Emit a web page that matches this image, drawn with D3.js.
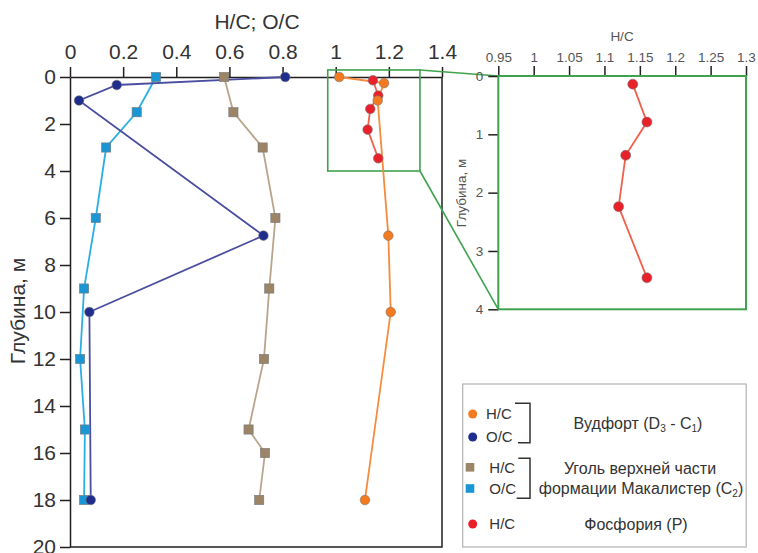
<!DOCTYPE html>
<html>
<head>
	<title></title>

<script src="https://d3js.org/d3.v7.min.js"></script>

<style type="text/css">
	body { margin: 0; background: #fff; }
	svg { font-family: "Liberation Sans", Arial, sans-serif; }
	.main .tick text { font-size: 21px; fill: #333; }
	.inset .tick text { font-size: 13.5px; fill: #555; }
	.tick line, .domain { stroke: #231f20; stroke-width: 1.5; }
	.leg { font-size: 15px; fill: #333; }
	.grp { font-size: 16px; fill: #333; }
</style>

</head>
<body>

<script type="text/javascript">

var width = 758,
	height = 553;

// Вудфорт (D3 - C1)
var woodDepthHC = [0, 0.26, 1.0, 6.75, 10, 18];
var woodHC      = [1.013, 1.182, 1.158, 1.198, 1.207, 1.11];
var woodDepthOC = [0, 0.34, 1.0, 6.75, 10, 18];
var woodOC      = [0.81, 0.176, 0.034, 0.728, 0.073, 0.078];

// Макалистер (C2)
var macDepthHC = [0, 1.5, 3, 6, 9, 12, 15, 16, 18];
var macHC      = [0.58, 0.615, 0.725, 0.773, 0.75, 0.73, 0.672, 0.734, 0.712];
var macDepthOC = [0, 1.5, 3, 6, 9, 12, 15, 18];
var macOC      = [0.324, 0.251, 0.136, 0.097, 0.053, 0.038, 0.056, 0.053];

// Фосфория (P)
var phosDepth = [0.14, 0.79, 1.36, 2.24, 3.46];
var phosHC    = [1.14, 1.16, 1.13, 1.12, 1.16];

var mainXTicks = [0, 0.2, 0.4, 0.6, 0.8, 1, 1.2, 1.4];
var mainYTicks = [0, 2, 4, 6, 8, 10, 12, 14, 16, 18, 20];
var insetXTicks = [0.95, 1, 1.05, 1.1, 1.15, 1.2, 1.25, 1.3];
var insetYTicks = [0, 1, 2, 3, 4];

// zoomed area in main plot
var zoomBoxX = [0.97, 1.317];
var zoomBoxY = [-0.3, 4];

var green = "#3fa34d";

var svg = d3.select('body').append('svg')
			.attr('width', width)
			.attr('height', height)

var x = d3.scaleLinear().domain([0, 1.4]).range([70, 442]);
var y = d3.scaleLinear().domain([0, 20]).range([77, 547]);

var xi = d3.scaleLinear().domain([0.95, 1.3]).range([498.3, 746]);
var yi = d3.scaleLinear().domain([0, 4]).range([76, 309.3]);

function zip(xs, ys) {
	return xs.map(function(v, i) { return {v: v, d: ys[i]}; });
}

var plain = function(d) { return String(+d.toFixed(2)); };

// ---- main plot frame
var main = svg.append('g').attr('class', 'main');

main.append('path')
	.attr('d', 'M' + x(1.4) + ',' + y(0) + 'V' + y(20) + 'H' + x(0))
	.attr('fill', 'none')
	.attr('stroke', '#231f20')
	.attr('stroke-width', 1.5);

main.append('g')
	.attr('transform', 'translate(0,' + y(0) + ')')
	.call(d3.axisTop(x).tickValues(mainXTicks).tickSize(10).tickSizeOuter(0).tickPadding(8)
		.tickFormat(plain));

main.append('g')
	.attr('transform', 'translate(' + x(0) + ',0)')
	.call(d3.axisLeft(y).tickValues(mainYTicks).tickSize(10).tickSizeOuter(0).tickPadding(4)
		.tickFormat(plain));

svg.append('text')
	.attr('x', 257).attr('y', 29)
	.attr('text-anchor', 'middle')
	.style('font-size', '21px').style('fill', '#333')
	.text('H/C; O/C');

svg.append('text')
	.attr('transform', 'translate(25,311) rotate(-90)')
	.attr('text-anchor', 'middle')
	.style('font-size', '21px').style('fill', '#333')
	.text('Глубина, м');

// ---- zoom box + connectors
svg.append('rect')
	.attr('x', x(zoomBoxX[0])).attr('y', y(zoomBoxY[0]))
	.attr('width', x(zoomBoxX[1]) - x(zoomBoxX[0]))
	.attr('height', y(zoomBoxY[1]) - y(zoomBoxY[0]))
	.attr('fill', 'none').attr('stroke', green).attr('stroke-width', 1.6);

svg.append('line')
	.attr('x1', x(zoomBoxX[1])).attr('y1', y(zoomBoxY[0]))
	.attr('x2', xi(0.95)).attr('y2', yi(0))
	.attr('stroke', green).attr('stroke-width', 1.6);

svg.append('line')
	.attr('x1', x(zoomBoxX[1])).attr('y1', y(zoomBoxY[1]))
	.attr('x2', xi(0.95)).attr('y2', yi(4))
	.attr('stroke', green).attr('stroke-width', 1.6);

// ---- series
var series = [
	{data: zip(phosHC, phosDepth), line: '#f0604a', fill: '#e8202a', shape: 'circle'},
	{data: zip(macHC, macDepthHC), line: '#b8a58c', fill: '#9c8467', shape: 'square'},
	{data: zip(macOC, macDepthOC), line: '#2aaee6', fill: '#1a96d4', shape: 'square'},
	{data: zip(woodOC, woodDepthOC), line: '#4a4ea0', fill: '#1f2d8c', shape: 'circle'},
	{data: zip(woodHC, woodDepthHC), line: '#f68b3c', fill: '#f47a20', shape: 'circle'}
];

var line = d3.line()
	.x(function(d) { return x(d.v); })
	.y(function(d) { return y(d.d); });

svg.selectAll('.sline')
	.data(series)
	.enter().append('path').attr('class', 'sline')
	.attr('d', function(s) { return line(s.data); })
	.attr('fill', 'none')
	.attr('stroke', function(s) { return s.line; })
	.attr('stroke-width', 1.8);

series.forEach(function(s) {
	var g = svg.append('g');
	if (s.shape == 'circle') {
		g.selectAll('circle')
			.data(s.data)
			.enter().append('circle')
			.attr('cx', function(d) { return x(d.v); })
			.attr('cy', function(d) { return y(d.d); })
			.attr('r', 4.8)
			.attr('fill', s.fill)
			.attr('stroke', '#777').attr('stroke-width', 0.6);
	} else {
		g.selectAll('rect')
			.data(s.data)
			.enter().append('rect')
			.attr('x', function(d) { return x(d.v) - 4.6; })
			.attr('y', function(d) { return y(d.d) - 4.6; })
			.attr('width', 9.2).attr('height', 9.2)
			.attr('fill', s.fill)
			.attr('stroke', '#777').attr('stroke-width', 0.6);
	}
});

// ---- inset
var inset = svg.append('g').attr('class', 'inset');

inset.append('g')
	.attr('transform', 'translate(0,' + yi(0) + ')')
	.call(d3.axisTop(xi).tickValues(insetXTicks).tickSize(10).tickSizeOuter(0).tickPadding(4)
		.tickFormat(plain))
	.select('.domain').remove();

inset.append('g')
	.attr('transform', 'translate(' + xi(0.95) + ',0)')
	.call(d3.axisLeft(yi).tickValues(insetYTicks).tickSize(10).tickSizeOuter(0).tickPadding(5)
		.tickFormat(plain))
	.select('.domain').remove();

inset.append('rect')
	.attr('x', xi(0.95)).attr('y', yi(0))
	.attr('width', xi(1.3) - xi(0.95)).attr('height', yi(4) - yi(0))
	.attr('fill', 'none').attr('stroke', green).attr('stroke-width', 2);

inset.append('text')
	.attr('x', 622).attr('y', 41)
	.attr('text-anchor', 'middle')
	.style('font-size', '13.5px').style('fill', '#555')
	.text('H/C');

inset.append('text')
	.attr('transform', 'translate(465.5,193) rotate(-90)')
	.attr('text-anchor', 'middle')
	.style('font-size', '13.5px').style('fill', '#555')
	.text('Глубина, м');

var insetData = zip(phosHC, phosDepth);

inset.append('path')
	.attr('d', d3.line()
		.x(function(d) { return xi(d.v); })
		.y(function(d) { return yi(d.d); })(insetData))
	.attr('fill', 'none').attr('stroke', '#f0604a').attr('stroke-width', 1.8);

inset.selectAll('circle')
	.data(insetData)
	.enter().append('circle')
	.attr('cx', function(d) { return xi(d.v); })
	.attr('cy', function(d) { return yi(d.d); })
	.attr('r', 5)
	.attr('fill', '#e8202a')
	.attr('stroke', '#777').attr('stroke-width', 0.6);

// ---- legend
var leg = svg.append('g');

leg.append('rect')
	.attr('x', 462.7).attr('y', 384)
	.attr('width', 283.5).attr('height', 163)
	.attr('fill', '#fff').attr('stroke', '#b3b3b3').attr('stroke-width', 1.2);

var legItems = [
	{shape: 'circle', fill: '#f47a20', label: 'H/C', cx: 472.7, cy: 414, tx: 486},
	{shape: 'circle', fill: '#1f2d8c', label: 'O/C', cx: 472.7, cy: 437, tx: 486},
	{shape: 'square', fill: '#9c8467', label: 'H/C', cx: 470, cy: 467.3, tx: 489.3},
	{shape: 'square', fill: '#1a96d4', label: 'O/C', cx: 470, cy: 488.5, tx: 489.3},
	{shape: 'circle', fill: '#e8202a', label: 'H/C', cx: 472.7, cy: 524, tx: 489.3}
];

legItems.forEach(function(it) {
	if (it.shape == 'circle') {
		leg.append('circle').attr('cx', it.cx).attr('cy', it.cy).attr('r', 4.5).attr('fill', it.fill);
	} else {
		leg.append('rect').attr('x', it.cx - 4.3).attr('y', it.cy - 4.3)
			.attr('width', 8.6).attr('height', 8.6).attr('fill', it.fill);
	}
	leg.append('text').attr('class', 'leg')
		.attr('x', it.tx).attr('y', it.cy + 5.4)
		.text(it.label);
});

// brackets
leg.append('path')
	.attr('d', 'M515,403.3H530V442.7H518 M518.3,458.3H530V498.3H516.7')
	.attr('fill', 'none').attr('stroke', '#333').attr('stroke-width', 1.5);

function subText(tx, ty, parts) {
	var t = leg.append('text').attr('class', 'grp')
		.attr('x', tx).attr('y', ty).attr('text-anchor', 'middle');
	var shift = 0;
	parts.forEach(function(p) {
		var s = t.append('tspan').text(p.t);
		if (p.sub) {
			s.attr('dy', 3.5).style('font-size', '10px');
			shift = 3.5;
		} else if (shift) {
			s.attr('dy', -shift);
			shift = 0;
		}
	});
}

subText(638, 428.5, [{t: 'Вудфорт (D'}, {t: '3', sub: true}, {t: ' - C'}, {t: '1', sub: true}, {t: ')'}]);
subText(640, 474, [{t: 'Уголь верхней части'}]);
subText(641, 493.5, [{t: 'формации Макалистер (C'}, {t: '2', sub: true}, {t: ')'}]);
subText(636, 529.8, [{t: 'Фосфория (P)'}]);

</script>

</body>
</html>
